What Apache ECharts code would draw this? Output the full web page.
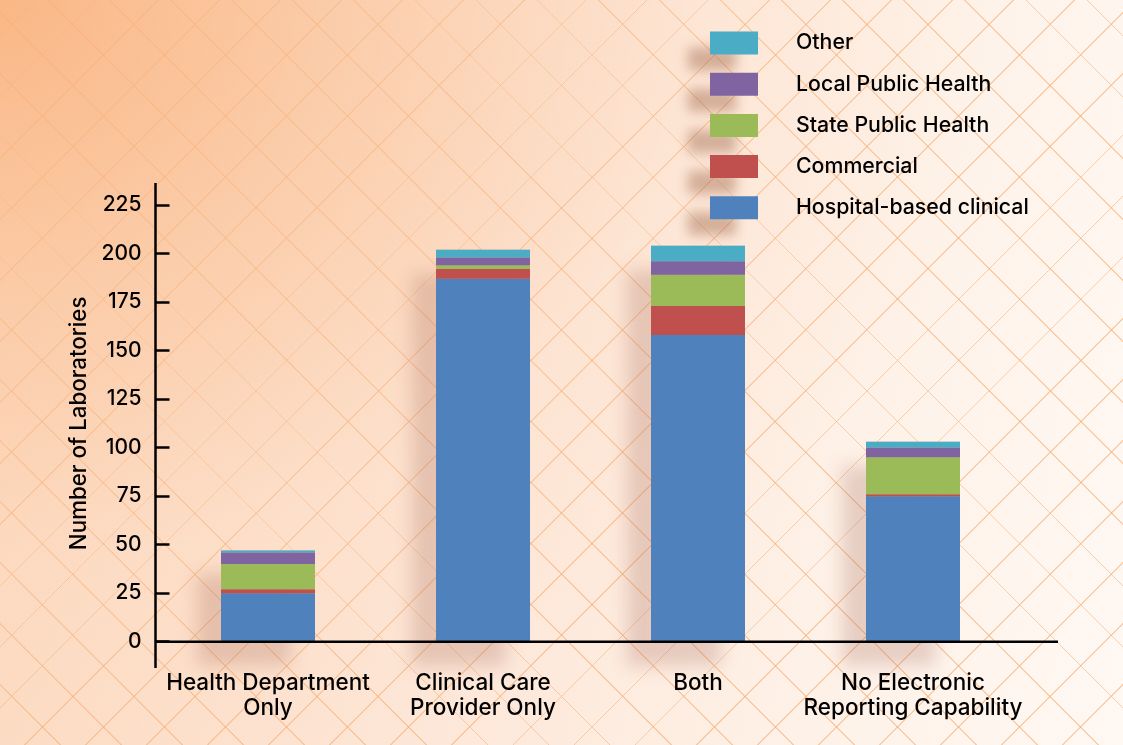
<!DOCTYPE html>
<html>
<head>
<meta charset="utf-8">
<script src="https://cdn.jsdelivr.net/npm/echarts@6/dist/echarts.min.js"></script>
<style>
html,body{margin:0;padding:0;}
#chart{width:1123px;height:745px;
background:
 radial-gradient(ellipse 1000px 800px at 0 0, rgba(249,175,120,0.8) 0, rgba(250,192,148,0.6) 35%, rgba(252,214,186,0.25) 70%, rgba(255,236,224,0) 100%),
 repeating-linear-gradient(45deg, rgba(0,0,0,0) 0 42px, rgba(247,172,112,0.55) 42px 43.2px),
 repeating-linear-gradient(-45deg, rgba(0,0,0,0) 0 42px, rgba(247,172,112,0.55) 42px 43.2px),
 linear-gradient(100deg, #fcd8bd 0, #fde7d8 45%, #fef3ea 80%, #fff8f3 100%);
}
</style>
</head>
<body>
<div id="chart"></div>
<script>
const categories = ['Health Department\nOnly', 'Clinical Care\nProvider Only', 'Both', 'No Electronic\nReporting Capability'];
const hospital = [25, 187, 158, 75];
const commercial = [2, 5, 15, 1];
const statePH = [13, 2, 16, 19];
const localPH = [6, 4, 7, 5];
const other = [1, 4, 8, 3];
const yTicks = [0, 25, 50, 75, 100, 125, 150, 175, 200, 225];

const totals = categories.map((_, i) => hospital[i] + commercial[i] + statePH[i] + localPH[i] + other[i]);
const font = 'Inter, Liberation Sans, Arial, sans-serif';
const chart = echarts.init(document.getElementById('chart'));
const mk = (name, data, color) => ({
  name, type: 'bar', stack: 'labs', data, barWidth: 94, z: 3,
  itemStyle: { color }
});
chart.setOption({
  backgroundColor: 'transparent',
  animation: false,
  textStyle: { fontFamily: font },
  grid: { left: 160.5, right: 102.5, top: 205, bottom: 103.3 },
  legend: {
    orient: 'vertical', left: 710, top: 31.5, padding: 0,
    icon: 'rect',
    itemWidth: 48, itemHeight: 23, itemGap: 18.2,
    data: ['Other', 'Local Public Health', 'State Public Health', 'Commercial', 'Hospital-based clinical'],
    textStyle: { fontSize: 21.3, fontWeight: 500, color: '#000', fontFamily: font, padding: [0, 0, 0, 33] },
    itemStyle: { shadowBlur: 12, shadowColor: 'rgba(150,90,60,0.4)', shadowOffsetX: -22, shadowOffsetY: 16 }
  },
  xAxis: {
    type: 'category', data: categories,
    axisLine: { show: false }, axisTick: { show: false },
    axisLabel: { interval: 0, fontSize: 22.5, fontWeight: 500, color: '#000', margin: 29, lineHeight: 25, fontFamily: font }
  },
  yAxis: {
    type: 'value', min: 0, max: 225, interval: 25, offset: 5,
    name: 'Number of Laboratories', nameLocation: 'middle', nameGap: 64,
    nameTextStyle: { fontSize: 22.3, fontWeight: 500, color: '#000', fontFamily: font },
    axisLine: { show: false },
    axisTick: { show: true, inside: true, length: 14, lineStyle: { color: '#000', width: 2.5 } },
    axisLabel: { fontSize: 21, fontWeight: 500, color: '#000', margin: 14, fontFamily: font,
      formatter: v => yTicks.includes(v) ? String(v) : '' },
    splitLine: { show: false }
  },
  graphic: [
    { type: 'line', z: 10, shape: { x1: 155.5, y1: 183, x2: 155.5, y2: 668 }, style: { stroke: '#000', lineWidth: 2.5 } },
    { type: 'line', z: 10, shape: { x1: 155.5, y1: 641.7, x2: 1058, y2: 641.7 }, style: { stroke: '#000', lineWidth: 2.5 } }
  ],
  series: [
    { name: 'shadow', type: 'bar', data: totals, barWidth: 94, barGap: '-100%', z: 1, silent: true,
      itemStyle: { color: 'rgba(180,120,100,0.5)', shadowBlur: 16, shadowColor: 'rgba(165,100,85,0.5)', shadowOffsetX: -24, shadowOffsetY: 24 } },
    mk('Hospital-based clinical', hospital, '#4f81bd'),
    mk('Commercial', commercial, '#c0504d'),
    mk('State Public Health', statePH, '#9bbb59'),
    mk('Local Public Health', localPH, '#8064a2'),
    mk('Other', other, '#4bacc6')
  ]
});
</script>
</body>
</html>
